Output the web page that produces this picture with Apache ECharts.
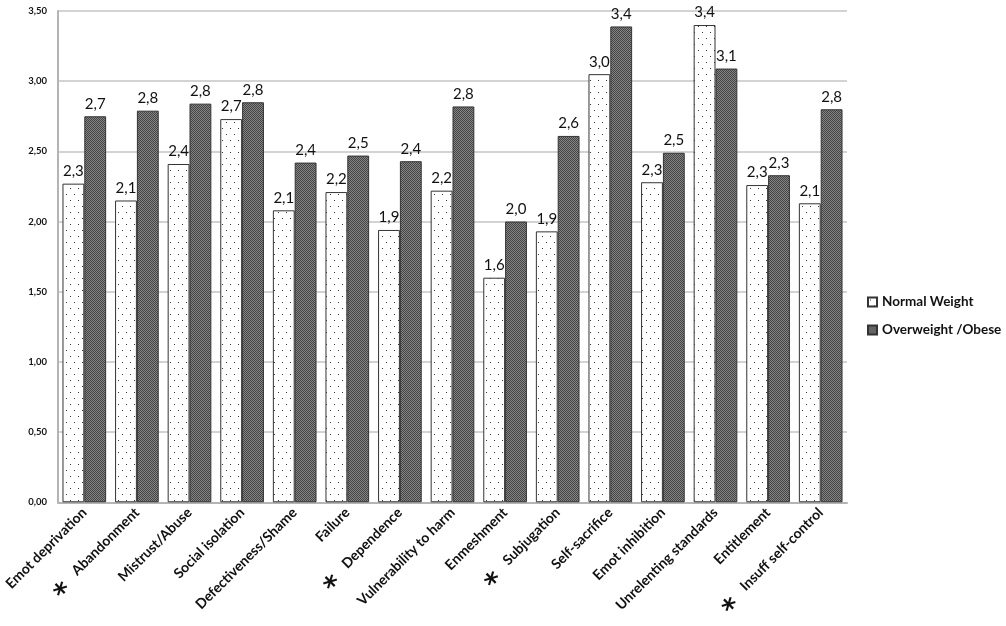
<!DOCTYPE html>
<html><head><meta charset="utf-8">
<script src="https://cdn.jsdelivr.net/npm/echarts@6/dist/echarts.min.js"></script>
<style>html,body{margin:0;padding:0;background:#fff}#c{width:1006px;height:626px}</style>
</head><body><div id="c"></div>
<script>
const categories = ["Emot deprivation","Abandonment","Mistrust/Abuse","Social isolation","Defectiveness/Shame","Failure","Dependence","Vulnerability to harm","Enmeshment","Subjugation","Self-sacrifice","Emot inhibition","Unrelenting standards","Entitlement","Insuff self-control"];
const starred = [false,true,false,false,false,false,true,false,false,true,false,false,false,false,true];
const normalWeight = [2.27,2.15,2.41,2.73,2.08,2.21,1.94,2.22,1.60,1.93,3.05,2.28,3.40,2.26,2.13];
const overweightObese = [2.75,2.79,2.84,2.85,2.42,2.47,2.43,2.82,2.00,2.61,3.39,2.49,3.09,2.33,2.80];
const normalLabels = ["2,3","2,1","2,4","2,7","2,1","2,2","1,9","2,2","1,6","1,9","3,0","2,3","3,4","2,3","2,1"];
const obeseLabels = ["2,7","2,8","2,8","2,8","2,4","2,5","2,4","2,8","2,0","2,6","3,4","2,5","3,1","2,3","2,8"];
const seriesNames = ["Normal Weight","Overweight /Obese"];

function dotPattern(){
  const c=document.createElement('canvas');c.width=8;c.height=12;
  const g=c.getContext('2d');g.fillStyle='#ffffff';g.fillRect(0,0,8,12);
  g.fillStyle='#333';g.fillRect(2,2,1,1);g.fillRect(6,8,1,1);
  return c;
}
function darkPattern(){
  const c=document.createElement('canvas');c.width=2;c.height=2;
  const g=c.getContext('2d');
  g.fillStyle='#858585';g.fillRect(0,0,2,2);
  g.fillStyle='#444444';g.fillRect(0,0,1,1);g.fillRect(1,1,1,1);
  return c;
}
const chart=echarts.init(document.getElementById('c'),null,{renderer:'canvas'});
const font='Lato';
chart.setOption({
  animation:false,
  backgroundColor:'#fff',
  grid:{left:58,right:159,top:11,bottom:123,containLabel:false},
  legend:{orient:'vertical',left:862,top:290,itemWidth:9,itemHeight:9,itemGap:14,icon:'rect',
    textStyle:{fontFamily:font,fontWeight:'bold',fontSize:13.5,color:'#111'},data:seriesNames},
  xAxis:{type:'category',data:categories,
    axisLine:{lineStyle:{color:'#b4b4b4',width:2}},axisTick:{show:false},
    axisLabel:{rotate:45,interval:0,margin:8,fontFamily:font,fontWeight:'bold',fontSize:14,color:'#111',
      formatter:(v,i)=>starred[i]?'{s|*}    '+v:v,
      rich:{s:{fontSize:28,fontWeight:'bold',color:'#111',fontFamily:'DejaVu Sans',padding:[16,0,0,0]}}}},
  yAxis:{type:'value',min:0,max:3.5,interval:0.5,
    axisLine:{show:true,lineStyle:{color:'#b4b4b4',width:2}},axisTick:{show:false},
    splitLine:{lineStyle:{color:'#c4c4c4',width:1.5}},
    axisLabel:{margin:11,fontFamily:font,fontWeight:'bold',fontSize:9.5,color:'#111',
      formatter:v=>v.toFixed(2).replace('.',',')}},
  series:[
    {name:seriesNames[0],type:'bar',data:normalWeight,barGap:'0%',barCategoryGap:'17%',
      itemStyle:{color:{image:dotPattern(),repeat:'repeat'},borderColor:'#333',borderWidth:1},
      label:{show:true,position:'top',distance:5,fontFamily:font,fontSize:15,color:'#111',
        formatter:p=>normalLabels[p.dataIndex]}},
    {name:seriesNames[1],type:'bar',data:overweightObese,barGap:'0%',barCategoryGap:'17%',
      itemStyle:{color:{image:darkPattern(),repeat:'repeat'},borderColor:'#333',borderWidth:1},
      label:{show:true,position:'top',distance:5,fontFamily:font,fontSize:15,color:'#111',
        formatter:p=>obeseLabels[p.dataIndex]}}
  ]
});
</script></body></html>
